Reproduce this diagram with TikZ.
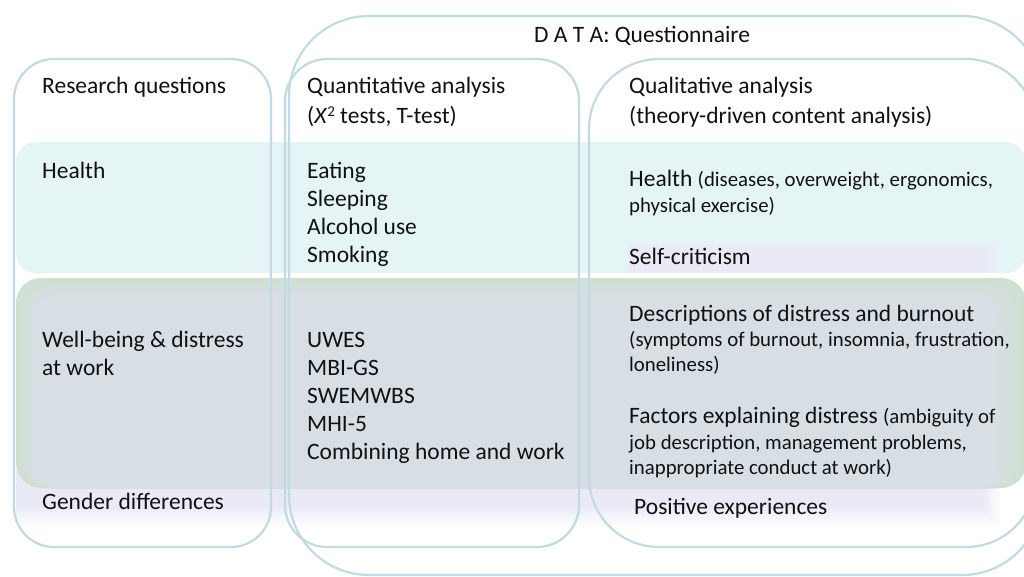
\documentclass[tikz,border=0pt]{standalone}
\usepackage{fontspec}
\setmainfont{Carlito}
\definecolor{boxline}{HTML}{C4DAE2}
\definecolor{healthfill}{HTML}{E5F5F5}
\definecolor{greenedge}{HTML}{CFE0D0}
\definecolor{greencore}{HTML}{D7DEE4}
\definecolor{lav}{HTML}{EAEAF7}
\definecolor{txt}{HTML}{111111}
\tikzset{
  outline/.style={draw=boxline, line width=2.2pt},
  bigtext/.style={anchor=base west, inner sep=0pt, text=txt, font=\fontsize{23.5}{28}\selectfont, align=left},
  smalltext/.style={anchor=base west, inner sep=0pt, text=txt, font=\fontsize{20.8}{25.5}\selectfont, align=left}
}
\newcommand{\sm}{\fontsize{20.8}{25.5}\selectfont}
\begin{document}
\begin{tikzpicture}[x=1pt,y=-1pt]
\useasboundingbox (0,0) rectangle (1024,576);
\clip (0,0) rectangle (1024,576);
\fill[white] (0,0) rectangle (1024,576);
% health band
\fill[healthfill, rounded corners=20pt] (16,142) rectangle (1026,273);
% self-criticism lavender patch (soft edges)
\foreach \i in {0,...,8}{
  \pgfmathsetmacro{\p}{\i*12.5}
  \fill[lav!\p!healthfill] (626+0.4*\i,240+1*\i) rectangle (1002-2*\i,273);
}
% gender lavender band with soft fading edges
\foreach \i in {0,...,8}{
  \pgfmathsetmacro{\p}{\i*12.5}
  \fill[lav!\p!white] (16,470) rectangle (1002-2.2*\i,530-2.8*\i);
}
% well-being band (soft green edges)
\fill[greenedge, rounded corners=25pt] (16,278) rectangle (1026,488);
\foreach \i in {1,...,8}{
  \pgfmathsetmacro{\p}{\i*12.5}
  \fill[greencore!\p!greenedge, rounded corners=22pt] (16+2.5*\i,278+2*\i) rectangle (1026-3.5*\i,488);
}
% outlines
\draw[outline, rounded corners=40pt] (14,59) rectangle (271,547);
\draw[outline, rounded corners=42pt] (285,59) rectangle (579,547);
\draw[outline, rounded corners=80pt] (289,16) rectangle (1042,575);
\draw[outline, rounded corners=70pt] (589,59) rectangle (1036,547);
% header texts
\node[bigtext] (data) at (534,42) {D A T A: Questionnaire};
\node[bigtext] (rq) at (42,93) {Research questions};
\node[bigtext] (quant) at (307,93) {Quantitative analysis};
\node[bigtext] (quant2) at (307,123) {(\textit{X}\raisebox{0.62ex}{\fontsize{15}{15}\selectfont 2} tests, T-test)};
\node[bigtext] (qual) at (629,93) {Qualitative analysis};
\node[bigtext] (qual2) at (629,123) {(theory-driven content analysis)};
% health row
\node[bigtext] (health) at (42,178) {Health};
\node[bigtext] (eat) at (307,178) {Eating};
\node[bigtext] (sleep) at (307,206) {Sleeping};
\node[bigtext] (alc) at (307,234) {Alcohol use};
\node[bigtext] (smoke) at (307,262) {Smoking};
\node[bigtext] (qhealth) at (629,186) {Health {\sm(diseases, overweight, ergonomics,}};
\node[smalltext] (qhealth2) at (629,212) {physical exercise)};
\node[bigtext] (selfcrit) at (629,264) {Self-criticism};
% well-being row
\node[bigtext] (wb) at (42,347) {Well-being \& distress};
\node[bigtext] (wb2) at (42,375) {at work};
\node[bigtext] (uwes) at (307,347) {UWES};
\node[bigtext] (mbi) at (307,375) {MBI-GS};
\node[bigtext] (swem) at (307,403) {SWEMWBS};
\node[bigtext] (mhi) at (307,431) {MHI-5};
\node[bigtext] (comb) at (307,459) {Combining home and work};
\node[bigtext] (desc) at (629,321) {Descriptions of distress and burnout};
\node[smalltext] (desc2) at (629,346) {(symptoms of burnout, insomnia, frustration,};
\node[smalltext] (desc3) at (629,371) {loneliness)};
\node[bigtext] (fact) at (629,423) {Factors explaining distress {\sm(ambiguity of}};
\node[smalltext] (fact2) at (629,449) {job description, management problems,};
\node[smalltext] (fact3) at (629,474) {inappropriate conduct at work)};
% gender row
\node[bigtext] (gender) at (42,509) {Gender differences};
\node[bigtext] (pos) at (634,514) {Positive experiences};
\end{tikzpicture}
\end{document}
